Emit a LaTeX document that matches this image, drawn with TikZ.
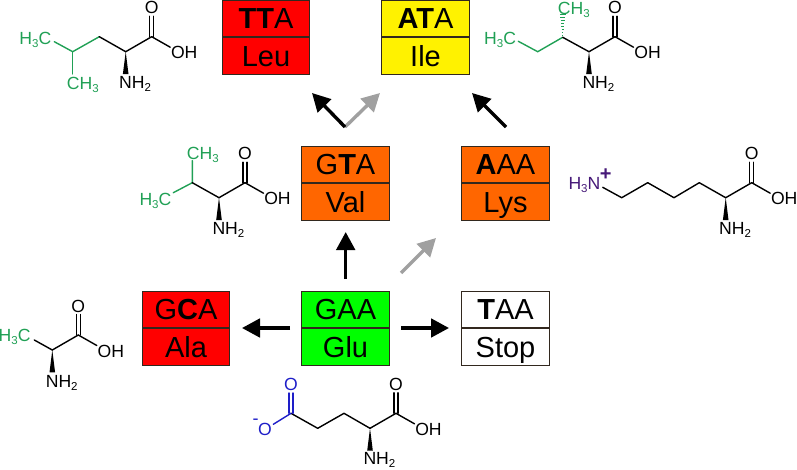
\documentclass[tikz,border=0pt]{standalone}
\usepackage{fontspec}
\setmainfont{Liberation Sans}
\usetikzlibrary{arrows.meta}
\definecolor{chemgreen}{RGB}{32,160,85}
\definecolor{chemblue}{RGB}{30,30,200}
\definecolor{chempurple}{RGB}{70,25,120}
\definecolor{boxedge}{RGB}{50,40,30}
\definecolor{orangebox}{RGB}{255,102,0}
\definecolor{arrowgray}{RGB}{160,160,160}
\tikzset{
  cell/.style={draw=boxedge,line width=1pt,minimum width=87.5pt,minimum height=36.5pt,inner sep=0pt,
    text height=20.5pt,text depth=0pt,font=\fontsize{29}{29}\selectfont},
  atom/.style={inner sep=0pt,text height=12.4pt,text depth=0pt,font=\fontsize{17.6}{17.6}\selectfont},
  bond/.style={line width=1.4pt,draw=black,line cap=round},
  gbond/.style={line width=1.4pt,draw=chemgreen,line cap=round},
  blbond/.style={line width=1.4pt,draw=chemblue,line cap=round},
  mutarrow/.style={line width=3.4pt,-{Triangle[length=18pt,width=18.5pt]},draw=black},
  rarearrow/.style={line width=3.4pt,-{Triangle[length=18pt,width=18.5pt]},draw=arrowgray}
}
\newcommand\sbs[1]{\raisebox{-3pt}{\fontsize{11.5}{11.5}\selectfont #1}}
% codon box: name, centre x, middle-line y, fill, codon, residue
\newcommand\codonbox[6]{%
  \node[cell,fill=#4,anchor=south] (#1c) at (#2,#3) {#5};
  \node[cell,fill=#4,anchor=north] (#1r) at (#2,#3) {#6};
}
% amino-acid backbone: [NH2 offset], prefix, x and y of alpha carbon
\newcommand\backbone[4][31]{%
  \begin{scope}[shift={(#3,#4)}]
    \coordinate (#2a) at (0,0);
    \coordinate (#2k) at (26,-15);
    \coordinate (#2kl) at (24,-15);
    \coordinate (#2kr) at (28,-15);
    \coordinate (#2ul) at (24,-35.5);
    \coordinate (#2ur) at (28,-35.5);
    \coordinate (#2hb) at (44.5,-4.5);
    \node[atom] (#2o) at (26,-44) {O};
    \node[atom] (#2oh) at (58.5,1) {OH};
    \node[atom,anchor=west] (#2n) at (-6.7,#1) {NH\sbs{2}};
    \draw[bond] (#2a) -- (#2k);
    \draw[bond] (#2kl) -- (#2ul);
    \draw[bond] (#2kr) -- (#2ur);
    \draw[bond] (#2k) -- (#2hb);
    \fill[black] (#2a) -- (-2.8,22.3) -- (2.8,22.3) -- cycle;
  \end{scope}
}
\begin{document}
\begin{tikzpicture}[x=1pt,y=-1pt]
\useasboundingbox (0,0) rectangle (797,469);
% codon boxes
\codonbox{ala}{186}{328}{red}{G\textbf{C}A}{Ala}
\codonbox{glu}{345.5}{328}{green}{GAA}{Glu}
\codonbox{stp}{505.5}{328}{white}{\textbf{T}AA}{Stop}
\codonbox{val}{345.5}{183}{orangebox}{G\textbf{T}A}{Val}
\codonbox{lys}{505.5}{183}{orangebox}{\textbf{A}AA}{Lys}
\codonbox{leu}{266}{37}{red}{\textbf{TT}A}{Leu}
\codonbox{ile}{425.5}{37}{yellow}{\textbf{AT}A}{Ile}
% arrows
\coordinate (g1) at (290,328); \coordinate (g2) at (242,328);
\coordinate (t1) at (401,328); \coordinate (t2) at (449,328);
\coordinate (v1) at (345.7,279); \coordinate (v2) at (345.7,232);
\coordinate (l1) at (401,273); \coordinate (l2) at (436,238);
\coordinate (u1) at (345,127); \coordinate (u2) at (312,93);
\coordinate (i1) at (345,127); \coordinate (i2) at (380,93);
\coordinate (k1) at (506,127); \coordinate (k2) at (472,93);
\draw[mutarrow] (g1) -- (g2);
\draw[mutarrow] (t1) -- (t2);
\draw[mutarrow] (v1) -- (v2);
\draw[rarearrow] (l1) -- (l2);
\draw[rarearrow] (i1) -- (i2);
\draw[mutarrow] (u1) -- (u2);
\draw[mutarrow] (k1) -- (k2);
% Leu
\backbone{le}{125.7}{51.7}
\node[atom,anchor=west,text=chemgreen] (leA) at (19.3,38) {H\sbs{3}C};
\node[atom,anchor=west,text=chemgreen] (leB) at (66.7,83.3) {CH\sbs{3}};
\coordinate (le1) at (54.3,41.7); \coordinate (le2) at (72.7,51.7);
\coordinate (le3) at (72.7,74); \coordinate (le4) at (99.3,36.7);
\draw[gbond] (le1) -- (le2) -- (le4);
\draw[gbond] (le2) -- (le3);
\draw[bond] (le4) -- (lea);
% Ile
\backbone{il}{589}{51.7}
\node[atom,anchor=west,text=chemgreen] (ilA) at (484,38) {H\sbs{3}C};
\node[atom,anchor=west,text=chemgreen] (ilB) at (557.7,8) {CH\sbs{3}};
\coordinate (il1) at (518.3,41.3); \coordinate (il2) at (537.7,51.7);
\coordinate (il3) at (562.7,37.3);
\draw[gbond] (il1) -- (il2) -- (il3);
\draw[bond] (il3) -- (ila);
\foreach \t in {0,...,7}{
  \draw[chemgreen,line width=1.1pt] ({562.7-0.35-0.36*\t},{35.2-3*\t}) -- ({562.7+0.35+0.36*\t},{35.2-3*\t});
}
% Val
\backbone{va}{219}{197.7}
\node[atom,anchor=west,text=chemgreen] (vaA) at (139.3,199) {H\sbs{3}C};
\node[atom,anchor=west,text=chemgreen] (vaB) at (186.7,153.3) {CH\sbs{3}};
\coordinate (va1) at (173.3,192.7); \coordinate (va2) at (192.3,182.7);
\coordinate (va3) at (192.3,160.5);
\draw[gbond] (va1) -- (va2) -- (va3);
\draw[bond] (va2) -- (vaa);
% Lys
\backbone{ly}{725.7}{197.7}
\node[atom,anchor=west,text=chempurple] (lyA) at (568.3,183.5) {H\sbs{3}N};
\node[inner sep=0pt,text=chempurple,font=\fontsize{20}{20}\selectfont\bfseries] (lyP) at (605.7,175) {+};
\coordinate (ly1) at (602.7,187.3); \coordinate (ly2) at (621.7,197.7);
\coordinate (ly3) at (647.7,182.7); \coordinate (ly4) at (674,197.7);
\coordinate (ly5) at (699.3,182.7);
\draw[bond,line join=round] (ly1) -- (ly2) -- (ly3) -- (ly4) -- (ly5) -- (lya);
% Ala
\backbone{al}{52.3}{350}
\node[atom,anchor=east,text=chemgreen] (alA) at (30.7,335) {H\sbs{3}C};
\coordinate (al1) at (34.3,340);
\draw[bond] (al1) -- (ala);
% Glu
\backbone[29.7]{gl}{370}{428.3}
\node[atom,text=chemblue] (glO) at (291,384) {O};
\node[atom,text=chemblue] (glM) at (265,429) {O};
\node[inner sep=0pt,text=chemblue,font=\fontsize{18}{18}\selectfont] (glN) at (255.5,422) {-};
\coordinate (gl1) at (344,413.3); \coordinate (gl2) at (317.7,428.3);
\coordinate (gl3) at (291,413.3); \coordinate (gl4) at (273.3,424.3);
\coordinate (gl5) at (289,413.3); \coordinate (gl6) at (293,413.3);
\coordinate (gl7) at (289,393); \coordinate (gl8) at (293,393);
\draw[bond,line join=round] (gl3) -- (gl2) -- (gl1) -- (gla);
\draw[blbond] (gl3) -- (gl4);
\draw[blbond] (gl5) -- (gl7);
\draw[blbond] (gl6) -- (gl8);
\end{tikzpicture}
\end{document}
